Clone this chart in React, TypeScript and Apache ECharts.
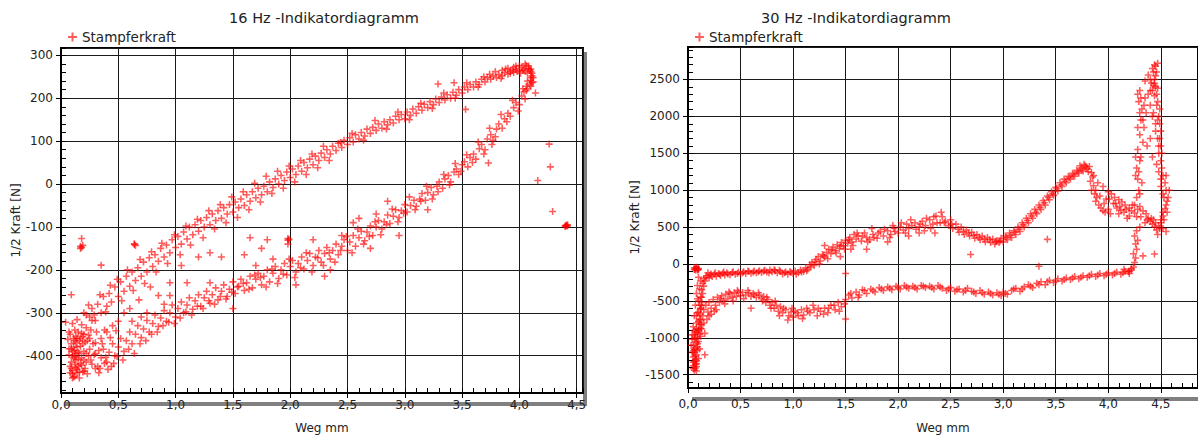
import React, { useEffect, useRef } from "react";
import * as echarts from "echarts";

// ---------- Data (x = Weg mm, y = 1/2 Kraft N) ----------
const titles = ["16 Hz -Indikatordiagramm", "30 Hz -Indikatordiagramm"];
const seriesName = "Stampferkraft";
const xAxisName = "Weg mm";
const yAxisName = "1/2 Kraft [N]";

// 16 Hz
const hz16Cluster: number[][] = [
  [0.08,-350],[0.09,-372],[0.1,-390],[0.11,-405],[0.12,-420],[0.1,-435],[0.12,-448],[0.14,-440],[0.15,-425],[0.13,-410],
  [0.16,-395],[0.14,-380],[0.12,-365],[0.17,-360],[0.19,-372],[0.2,-390],[0.18,-405],[0.22,-415],[0.21,-430],[0.09,-415],
  [0.11,-380],[0.13,-355],[0.15,-345],[0.18,-348],[0.23,-365],[0.25,-385],[0.07,-398],[0.08,-425],[0.1,-442],[0.16,-452],
  [0.13,-395],[0.15,-408],[0.2,-350],[0.26,-340],[0.11,-360],[0.09,-385],[0.17,-418],[0.19,-438],[0.24,-400],[0.27,-420],
  [0.3,-430],[0.14,-432],[0.12,-388],[0.1,-400],[0.08,-440],[0.11,-450],[0.13,-370],[0.16,-365],[0.2,-410],[0.22,-395],
  [0.06,-362],[0.07,-384],[0.09,-430],[0.1,-452],[0.12,-402],[0.13,-428],[0.14,-360],[0.15,-392],[0.16,-438],[0.17,-378],
  [0.18,-422],[0.19,-356],[0.2,-436],[0.21,-368],[0.23,-442],[0.24,-352],[0.26,-410],[0.28,-372],[0.29,-398],[0.31,-345],
  [0.33,-388],[0.34,-430],[0.36,-372],[0.38,-340],[0.39,-404],[0.41,-432],[0.43,-358],[0.46,-418],[0.48,-342],[0.12,-340],
  [0.1,-325],[0.14,-316],[0.18,-328],[0.22,-305],[0.27,-318],[0.07,-345],
];
const hz16Upper: number[][] = [
  [0.2,-300],[0.22,-335],[0.25,-310],[0.27,-290],[0.3,-318],[0.32,-280],[0.35,-300],[0.37,-262],[0.4,-285],[0.42,-255],
  [0.44,-275],[0.47,-240],[0.5,-262],[0.52,-228],[0.55,-250],[0.57,-215],[0.6,-238],[0.62,-205],[0.65,-225],[0.67,-195],
  [0.7,-215],[0.72,-182],[0.75,-205],[0.77,-172],[0.8,-192],[0.82,-165],[0.85,-180],[0.87,-150],[0.9,-170],[0.92,-142],
  [0.95,-160],[0.97,-130],[1.0,-148],[1.02,-122],[1.05,-140],[1.07,-112],[1.1,-128],[1.12,-100],[1.15,-118],[1.17,-95],
  [1.2,-110],[1.22,-85],[1.25,-100],[1.27,-78],[1.3,-95],[1.32,-70],[1.35,-85],[1.37,-62],[1.4,-80],[1.42,-55],
  [1.45,-70],[1.47,-48],[1.5,-65],[1.52,-42],[1.55,-55],[1.57,-35],[1.6,-50],[1.62,-25],[1.65,-40],[1.67,-18],
  [1.7,-32],[1.72,-10],[1.75,-25],[1.77,-5],[1.8,-18],[1.82,5],[1.85,-8],[1.87,12],[1.9,0],[1.92,20],
  [1.95,8],[1.97,28],[2.0,15],[2.02,35],[2.05,22],[2.07,42],[2.1,30],[2.12,50],[2.15,38],[2.17,58],
  [2.2,45],[2.22,65],[2.25,55],[2.27,72],[2.3,62],[2.32,80],[2.35,70],[2.37,88],[2.4,78],[2.42,95],
  [2.45,85],[2.47,102],[2.5,92],[2.52,108],[2.55,98],[2.57,115],[2.6,105],[2.62,120],[2.65,112],[2.67,128],
  [2.7,118],[2.72,132],[2.75,125],[2.77,140],[2.8,130],[2.82,145],[2.85,138],[2.87,150],[2.9,142],[2.92,158],
  [2.95,150],[2.97,162],[3.0,152],[3.02,168],[3.05,160],[3.07,175],[3.1,165],[3.12,180],[3.15,172],[3.17,186],
  [3.2,178],[3.22,192],[3.25,185],[3.27,198],[3.3,190],[3.32,203],[3.35,196],[3.37,208],[3.4,200],[3.42,214],
  [3.45,207],[3.47,220],[3.5,212],[3.52,226],[3.55,220],[3.57,232],[3.6,226],[3.62,238],[3.65,232],[3.67,244],
  [3.7,238],[3.72,248],[3.75,244],[3.77,252],[3.8,248],[3.82,256],[3.85,252],[3.87,260],[3.9,256],[3.92,263],
  [3.95,260],[3.97,268],[4.0,264],[4.02,272],[4.04,268],[4.06,276],[4.08,270],[4.1,262],[4.11,252],[4.1,242],
  [4.09,232],[4.07,222],[3.85,265],[3.9,270],[3.95,272],[4.0,276],[4.05,280],[4.08,275],[4.1,268],[3.92,258],
  [3.98,262],[4.03,265],[4.07,258],[4.1,248],[4.12,238],[4.1,228],[4.06,218],
  [0.24,-282],[0.29,-305],[0.34,-258],[0.39,-298],[0.43,-236],[0.49,-222],[0.53,-272],[0.58,-200],[0.63,-248],[0.69,-176],
  [0.73,-232],[0.79,-158],[0.83,-205],[0.88,-138],[0.93,-185],[0.99,-118],[1.04,-165],[1.09,-98],[1.13,-142],[1.19,-82],
  [1.24,-125],[1.29,-62],[1.34,-105],[1.39,-48],[1.44,-90],[1.49,-30],[1.54,-78],[1.59,-18],[1.64,-60],[1.69,2],
  [1.74,-42],[1.79,18],[1.84,-22],[1.89,30],[1.94,-10],[1.99,42],[2.04,5],[2.09,55],[2.14,22],[2.19,70],
  [2.24,38],[2.29,88],[2.34,55],[2.44,96],[2.54,118],[2.64,102],[2.74,148],[2.84,128],[2.94,168],[3.04,150],
  [3.14,188],[3.24,176],[3.34,212],[3.44,200],[3.54,236],[3.64,226],[3.74,256],[3.84,246],[3.94,266],[4.01,258],
  [3.97,275],[4.05,262],[4.09,266],[4.11,258],[4.12,248],[4.11,236],[3.88,268],[3.79,262],[3.69,250],
];
const hz16Lower: number[][] = [
  [0.3,-395],[0.32,-425],[0.35,-405],[0.37,-385],[0.4,-415],[0.42,-392],[0.45,-372],[0.47,-400],[0.5,-380],[0.52,-360],
  [0.55,-390],[0.57,-365],[0.6,-345],[0.62,-372],[0.65,-350],[0.67,-330],[0.7,-358],[0.72,-338],[0.75,-318],[0.77,-345],
  [0.8,-325],[0.82,-305],[0.85,-332],[0.87,-312],[0.9,-295],[0.92,-320],[0.95,-300],[0.97,-282],[1.0,-310],[1.02,-290],
  [1.05,-275],[1.07,-300],[1.1,-282],[1.12,-265],[1.15,-292],[1.17,-272],[1.2,-258],[1.22,-285],[1.25,-265],[1.27,-250],
  [1.3,-278],[1.32,-258],[1.35,-242],[1.37,-270],[1.4,-250],[1.42,-235],[1.45,-262],[1.47,-245],[1.5,-228],[1.52,-255],
  [1.55,-238],[1.57,-222],[1.6,-248],[1.62,-230],[1.65,-215],[1.67,-242],[1.7,-222],[1.72,-208],[1.75,-235],[1.77,-215],
  [1.8,-200],[1.82,-228],[1.85,-208],[1.87,-192],[1.9,-220],[1.92,-200],[1.95,-185],[1.97,-212],[2.0,-192],[2.02,-178],
  [2.05,-205],[2.07,-185],[2.1,-170],[2.12,-198],[2.15,-178],[2.17,-162],[2.2,-190],[2.22,-170],[2.25,-155],[2.27,-182],
  [2.3,-162],[2.32,-148],[2.35,-175],[2.37,-155],[2.4,-140],[2.42,-165],[2.45,-145],[2.47,-130],[2.5,-155],[2.52,-135],
  [2.55,-120],[2.57,-145],[2.6,-125],[2.62,-110],[2.65,-132],[2.67,-112],[2.7,-98],[2.72,-120],[2.75,-100],[2.77,-85],
  [2.8,-105],[2.82,-88],[2.85,-72],[2.87,-92],[2.9,-75],[2.92,-60],[2.95,-78],[2.97,-62],[3.0,-48],[3.02,-65],
  [3.05,-50],[3.08,-38],[3.1,-52],[3.13,-35],[3.15,-22],[3.18,-38],[3.2,-20],[3.23,-8],[3.25,-25],[3.28,-5],
  [3.3,5],[3.33,-10],[3.35,12],[3.38,20],[3.4,5],[3.43,28],[3.45,35],[3.47,22],[3.5,45],[3.52,52],
  [3.55,40],[3.57,62],[3.6,70],[3.62,58],[3.65,82],[3.67,92],[3.7,80],[3.72,105],[3.75,115],[3.77,102],
  [3.8,128],[3.82,140],[3.85,130],[3.87,152],[3.9,165],[3.92,158],[3.95,178],[3.97,190],[4.0,185],[4.02,205],
  [4.04,215],[4.06,228],[4.07,240],
  [0.33,-440],[0.38,-418],[0.44,-425],[0.49,-402],[0.54,-410],[0.59,-385],[0.64,-395],[0.69,-372],[0.74,-365],[0.79,-350],
  [0.84,-345],[0.89,-330],[0.94,-322],[0.99,-325],[1.04,-312],[1.09,-298],[1.14,-305],[1.19,-285],[1.24,-290],[1.29,-272],
  [1.34,-280],[1.39,-262],[1.44,-268],[1.49,-252],[1.54,-240],[1.59,-232],[1.64,-245],[1.69,-212],[1.74,-218],[1.79,-240],
  [1.84,-198],[1.89,-232],[1.94,-210],[1.99,-175],[2.04,-218],[2.09,-195],[2.14,-160],[2.19,-205],[2.24,-172],[2.29,-190],
  [2.34,-160],[2.39,-182],[2.44,-155],[2.49,-122],[2.54,-160],[2.59,-105],[2.64,-140],[2.69,-122],[2.74,-88],[2.79,-118],
  [2.84,-95],[2.89,-58],[2.94,-88],[2.99,-68],[3.04,-30],[3.09,-60],[3.14,-40],[3.19,-5],[3.24,-35],[3.29,-18],
  [3.34,22],[3.39,-2],[3.44,48],[3.49,30],[3.54,68],[3.59,50],[3.64,98],[3.69,70],[3.74,130],[3.79,110],
  [3.84,162],[3.89,145],[3.94,195],[3.99,170],[4.03,222],[4.05,198],
];
const hz16Outliers: number[][] = [
  [0.55,-300],[0.6,-290],[0.68,-270],[0.75,-300],[0.85,-260],[0.95,-230],[1.05,-190],[1.2,-170],[1.3,-160],[0.45,-330],
  [0.5,-320],[0.4,-345],[0.62,-320],[0.7,-310],[0.9,-280],[1.4,-170],[1.6,-165],[1.75,-150],[1.65,-125],[1.8,-130],
  [0.35,-360],[0.78,-240],[0.3,-370],[0.25,-360],[2.6,-80],[2.75,-70],[2.35,-200],[2.3,-215],[2.85,-40],[2.95,-120],
  [2.7,-150],[2.45,-120],[3.2,-60],[2.55,-90],[1.5,-290],[1.3,-230],[1.1,-230],[0.95,-260],[2.05,-235],[1.85,-175],
  [1.7,-190],[2.2,-130],[3.29,233],[3.43,236],[3.53,174],[4.14,212],[3.73,49],[3.76,92],[4.26,93],[4.27,40],
  [4.16,8],[4.29,-64],[4.4,-97],[4.41,-96],[4.42,-98],[4.4,-99],[4.42,-95],[4.41,-97],[0.17,-145],[0.18,-148],
  [0.19,-143],[0.17,-150],[0.18,-127],[0.64,-141],[0.65,-143],[0.64,-139],[1.98,-127],[1.99,-129],[1.98,-131],[1.98,-140],
  [0.35,-189],[0.09,-258],[0.04,-322],
];

// 30 Hz
const hz30Start: number[][] = [
  [0.06,-50],[0.07,-65],[0.08,-55],[0.09,-70],[0.07,-80],[0.1,-60],[0.08,-45],[0.09,-85],[0.06,-75],[0.1,-75],
  [0.1,-180],[0.12,-230],[0.09,-290],[0.11,-340],[0.08,-400],[0.13,-450],[0.1,-500],[0.07,-560],[0.12,-610],[0.09,-660],
  [0.06,-700],[0.11,-750],[0.08,-800],[0.05,-850],[0.1,-880],[0.07,-920],[0.04,-960],[0.09,-990],[0.06,-1020],[0.08,-1060],
  [0.05,-1100],[0.07,-1140],[0.09,-1170],[0.06,-1200],[0.08,-1230],[0.05,-1260],[0.07,-1290],[0.06,-1320],[0.08,-1350],[0.05,-1380],
  [0.07,-1410],[0.06,-1440],[0.08,-1390],[0.04,-1200],[0.03,-1100],[0.1,-1050],[0.11,-950],[0.12,-870],[0.13,-820],[0.09,-1120],
  [0.1,-1280],[0.07,-1000],[0.06,-900],[0.05,-1180],[0.08,-1310],[0.11,-1150],[0.16,-1230],
  [0.05,-1330],[0.07,-1250],[0.09,-1080],[0.04,-1020],[0.06,-960],[0.08,-880],[0.1,-780],[0.12,-680],[0.11,-560],[0.09,-470],
  [0.13,-560],[0.07,-1360],[0.05,-1420],[0.08,-1450],[0.06,-1160],[0.09,-930],
];
const hz30Middle: number[][] = [
  [0.12,-600],[0.13,-520],[0.12,-450],[0.14,-400],[0.13,-350],[0.15,-300],[0.14,-260],[0.16,-230],[0.15,-200],[0.17,-180],
  [0.18,-160],[0.2,-190],[0.21,-150],[0.23,-170],[0.25,-140],[0.27,-165],[0.29,-130],[0.31,-155],[0.33,-125],[0.35,-150],
  [0.37,-118],[0.4,-145],[0.42,-120],[0.45,-140],[0.48,-110],[0.5,-135],[0.53,-105],[0.55,-130],[0.58,-100],[0.6,-125],
  [0.63,-95],[0.65,-120],[0.68,-90],[0.7,-115],[0.73,-85],[0.75,-110],[0.78,-80],[0.8,-105],[0.83,-90],[0.85,-120],
  [0.88,-100],[0.9,-135],[0.93,-110],[0.95,-140],[0.98,-115],[1.0,-130],[1.02,-95],[1.05,-120],[1.07,-80],[1.1,-100],
  [1.12,-50],[1.14,-70],[1.16,-10],[1.18,20],[1.2,-20],[1.22,60],[1.24,100],[1.26,40],[1.28,130],[1.3,90],
  [1.32,160],[1.34,200],[1.36,140],[1.38,230],[1.4,180],[1.42,260],[1.44,210],[1.46,290],[1.48,250],[1.5,320],
  [1.52,280],[1.54,360],[1.56,300],[1.58,400],[1.6,340],[1.62,380],[1.65,310],[1.68,420],[1.7,360],[1.73,330],
  [1.76,400],[1.8,350],[1.83,440],[1.86,380],[1.9,450],[1.93,400],[1.96,480],[2.0,420],[2.02,500],[2.05,460],
  [2.08,540],[2.1,480],[2.13,520],[2.16,560],[2.2,500],[2.23,580],[2.26,520],[2.3,600],[2.33,540],[2.36,650],
  [2.4,560],[1.45,100],[1.55,200],[1.7,200],[1.9,300],[2.1,380],[2.2,420],[1.3,250],[1.75,480],[1.95,520],
  [2.35,420],[2.25,450],
  [0.19,-120],[0.22,-135],[0.26,-118],[0.3,-138],[0.34,-110],[0.38,-135],[0.43,-105],[0.47,-128],[0.52,-120],[0.57,-95],
  [0.62,-112],[0.67,-105],[0.72,-98],[0.77,-120],[0.82,-78],[0.87,-85],[0.92,-120],[0.97,-100],[1.03,-140],[1.08,-110],
  [1.13,-90],[1.17,-40],[1.21,30],[1.25,0],[1.29,110],[1.33,70],[1.37,190],[1.41,150],[1.45,240],[1.49,200],
  [1.53,330],[1.57,250],[1.61,420],[1.66,380],[1.71,300],[1.77,360],[1.81,420],[1.87,470],[1.92,360],[1.97,440],
  [2.03,560],[2.07,420],[2.12,600],[2.17,470],[2.21,540],[2.27,620],[2.31,480],[2.37,560],[2.41,700],[2.34,640],
];
const hz30Upper: number[][] = [
  [2.42,640],[2.45,580],[2.48,520],[2.5,600],[2.52,480],[2.55,540],[2.58,430],[2.6,500],[2.63,400],[2.65,460],
  [2.68,380],[2.7,430],[2.73,350],[2.75,400],[2.78,330],[2.8,380],[2.83,300],[2.85,360],[2.88,290],[2.9,340],
  [2.92,270],[2.94,320],[2.96,290],[2.98,350],[3.0,300],[3.02,380],[3.04,330],[3.06,420],[3.08,360],[3.1,450],
  [3.12,400],[3.14,500],[3.16,440],[3.18,560],[3.2,500],[3.22,620],[3.24,560],[3.26,680],[3.28,620],[3.3,740],
  [3.32,680],[3.34,800],[3.36,740],[3.38,860],[3.4,800],[3.42,920],[3.44,870],[3.46,980],[3.48,930],[3.5,1040],
  [3.52,990],[3.54,1100],[3.56,1050],[3.58,1150],[3.6,1100],[3.62,1190],[3.64,1150],[3.66,1230],[3.68,1190],[3.7,1270],
  [3.72,1230],[3.74,1300],[3.76,1260],[3.78,1330],[3.8,1290],[3.82,1320],[3.84,1240],[3.85,1180],[3.83,1120],[3.86,1060],
  [3.84,1000],[3.87,950],[3.89,900],[3.88,850],[3.91,800],[3.93,760],[3.95,720],[3.97,700],[4.0,740],[3.9,1100],
  [3.95,1050],[4.0,980],[4.03,950],[4.06,900],[4.1,870],[4.13,840],[4.16,800],[4.2,760],[4.22,720],[4.25,690],
  [4.28,740],[4.3,780],[4.33,720],[4.36,680],[4.38,620],[4.4,580],[4.42,540],[4.44,500],[4.46,460],[4.48,520],
  [4.5,560],[4.52,480],[4.55,440],[4.47,400],[4.43,600],[4.35,560],[4.3,500],[4.27,450],[4.25,380],[4.2,650],
  [4.15,700],[4.08,760],[4.05,820],[4.02,680],[3.98,880],[4.1,680],[4.18,620],[4.12,730],
  [2.44,560],[2.51,540],[2.57,470],[2.62,440],[2.67,420],[2.72,390],[2.77,360],[2.82,340],[2.87,330],[2.93,300],
  [2.97,310],[3.03,360],[3.07,390],[3.11,430],[3.15,470],[3.19,530],[3.23,590],[3.27,650],[3.31,700],[3.35,770],
  [3.39,830],[3.43,900],[3.47,950],[3.51,1020],[3.55,1070],[3.59,1120],[3.63,1170],[3.67,1210],[3.71,1250],[3.75,1280],
  [3.79,1310],[3.77,1350],[3.73,1330],[3.81,1250],[3.86,1200],[3.88,1000],[3.92,920],[3.96,820],[4.01,880],[4.07,820],
  [4.11,780],[4.17,740],[4.23,800],[4.27,640],[4.31,640],[4.37,600],[4.41,620],[4.45,560],[4.49,480],[4.53,600],
  [4.56,700],
];
const hz30Spike: number[][] = [
  [4.5,600],[4.52,700],[4.55,800],[4.57,900],[4.55,1000],[4.54,1100],[4.52,1200],[4.51,1300],[4.5,1400],[4.51,1500],
  [4.5,1600],[4.49,1700],[4.5,1800],[4.49,1900],[4.48,2000],[4.49,2100],[4.47,2200],[4.46,2300],[4.45,2400],[4.44,2500],
  [4.43,2600],[4.44,2700],[4.42,2650],[4.45,2550],[4.41,2450],[4.4,2350],[4.38,2300],[4.35,2250],[4.3,2350],[4.29,2200],
  [4.32,2100],[4.36,2050],[4.31,1950],[4.34,1850],[4.3,1750],[4.33,1650],[4.28,1550],[4.26,1450],[4.3,1400],[4.27,1300],
  [4.26,1200],[4.32,1100],[4.29,1000],[4.27,900],[4.25,800],[4.4,2150],[4.42,2000],[4.45,1900],[4.47,2380],[4.43,2420],
  [4.4,2500],[4.46,2600],[4.44,2280],[4.48,1600],[4.5,1150],[4.52,950],[4.56,850],[4.58,1000],[4.55,1200],[4.4,1700],
  [4.37,1600],[4.42,1450],[4.35,2480],[4.38,2560],[4.45,2680],[4.47,2720],
  [4.44,2450],[4.42,2350],[4.46,2150],[4.43,2050],[4.47,1950],[4.45,1800],[4.47,1700],[4.48,1500],[4.46,1350],[4.48,1250],
  [4.5,1050],[4.53,900],[4.54,750],[4.52,650],[4.28,2300],[4.31,2250],[4.34,2150],[4.3,2050],[4.33,1950],[4.28,1850],
  [4.31,1450],[4.29,1250],[4.28,1150],[4.3,950],
];
const hz30Lower: number[][] = [
  [0.08,-700],[0.1,-650],[0.12,-760],[0.14,-700],[0.11,-820],[0.15,-620],[0.17,-560],[0.19,-650],[0.2,-520],[0.22,-600],
  [0.24,-480],[0.26,-560],[0.28,-450],[0.3,-520],[0.32,-430],[0.34,-490],[0.36,-410],[0.38,-470],[0.4,-400],[0.42,-450],
  [0.44,-390],[0.46,-440],[0.48,-380],[0.5,-430],[0.52,-385],[0.55,-420],[0.58,-390],[0.6,-440],[0.62,-400],[0.65,-450],
  [0.68,-420],[0.7,-470],[0.72,-440],[0.74,-520],[0.76,-480],[0.78,-560],[0.8,-520],[0.82,-600],[0.84,-560],[0.86,-640],
  [0.88,-580],[0.9,-660],[0.93,-620],[0.96,-700],[0.98,-650],[1.0,-720],[1.02,-640],[1.05,-700],[1.08,-620],[1.1,-690],
  [1.13,-600],[1.16,-660],[1.2,-620],[1.23,-700],[1.26,-640],[1.3,-600],[1.33,-660],[1.36,-560],[1.4,-620],[1.43,-520],
  [1.46,-580],[1.5,-480],[1.53,-420],[1.56,-460],[1.6,-380],[1.63,-420],[1.66,-350],[1.7,-400],[1.74,-340],[1.78,-380],
  [1.82,-320],[1.86,-360],[1.9,-310],[1.94,-350],[1.98,-300],[2.02,-340],[2.06,-290],[2.1,-330],[2.14,-300],[2.18,-340],
  [2.22,-290],[2.26,-320],[2.3,-300],[2.34,-340],[2.38,-290],[2.42,-330],[2.46,-360],[2.5,-320],[2.54,-370],[2.58,-340],
  [2.62,-380],[2.66,-330],[2.7,-370],[2.74,-400],[2.78,-360],[2.82,-410],[2.86,-380],[2.9,-420],[2.94,-390],[2.98,-430],
  [3.0,-380],[3.04,-410],[3.08,-360],[3.12,-330],[3.16,-370],[3.2,-310],[3.24,-280],[3.28,-320],[3.32,-260],[3.36,-240],
  [3.4,-280],[3.44,-220],[3.48,-250],[3.52,-200],[3.56,-230],[3.6,-190],[3.64,-210],[3.68,-170],[3.72,-200],[3.76,-160],
  [3.8,-180],[3.84,-140],[3.88,-170],[3.92,-130],[3.96,-160],[4.0,-120],[4.04,-150],[4.08,-110],[4.12,-140],[4.16,-100],
  [4.2,-130],[4.22,-80],[4.24,-40],[4.25,20],[4.26,80],[4.24,140],[4.27,200],[4.26,270],[4.28,320],[4.22,-60],
  [4.19,-100],[4.15,-70],[0.15,-800],[0.18,-750],[0.2,-700],[0.13,-880],[0.16,-940],[0.22,-680],[0.25,-640],[0.1,-900],
  [0.12,-980],
  [0.27,-620],[0.31,-470],[0.35,-540],[0.39,-380],[0.43,-500],[0.47,-360],[0.53,-470],[0.57,-360],[0.63,-420],[0.67,-390],
  [0.71,-500],[0.75,-450],[0.79,-600],[0.83,-500],[0.87,-700],[0.91,-600],[0.95,-760],[0.99,-600],[1.04,-660],[1.09,-740],
  [1.14,-640],[1.19,-560],[1.24,-600],[1.29,-680],[1.34,-600],[1.39,-560],[1.44,-640],[1.49,-540],[1.55,-400],[1.62,-450],
  [1.68,-360],[1.76,-360],[1.84,-340],[1.92,-330],[2.0,-320],[2.08,-310],[2.16,-320],[2.24,-300],[2.32,-320],[2.4,-310],
  [2.48,-340],[2.56,-350],[2.64,-360],[2.72,-380],[2.8,-390],[2.88,-400],[2.96,-410],[3.02,-400],[3.1,-340],[3.18,-340],
  [3.26,-300],[3.34,-280],[3.42,-240],[3.5,-230],[3.58,-210],[3.66,-190],[3.74,-180],[3.82,-160],[3.9,-150],[3.98,-140],
  [4.06,-130],[4.14,-120],[4.2,-100],
];
const hz30Outliers: number[][] = [
  [2.69,128],[3.42,334],[3.34,-31],[4.44,136],[4.33,110],[1.5,-130],[1.5,-744],[0.6,-600],
];

const hz16Data = [...hz16Cluster, ...hz16Upper, ...hz16Lower, ...hz16Outliers];
const hz30Data = [...hz30Start, ...hz30Middle, ...hz30Upper, ...hz30Spike, ...hz30Lower, ...hz30Outliers];

// ---------- Layout / style ----------
const FONT = "DejaVu Sans";
const TEXT = "#222";
const PLUS = "path://M3.5,0L5.5,0L5.5,3.5L9,3.5L9,5.5L5.5,5.5L5.5,9L3.5,9L3.5,5.5L0,5.5L0,3.5L3.5,3.5Z";
const MARK = "rgba(255,0,0,0.8)";

const G1 = { left: 61, top: 48, width: 522, height: 354 };
const G2 = { left: 688, top: 47, width: 516, height: 350 };
const X1 = { min: 0, max: 4.555 };
const Y1 = { min: -487, max: 317 };
const X2 = { min: 0, max: 4.854 };
const Y2 = { min: -1680, max: 2940 };

const fmtX = (v: number) => v.toFixed(1).replace(".", ",");
const fmtY = (v: number) => String(Math.round(v));

function mainX(grid: number, ext: { min: number; max: number }, nameGap: number, margin: number) {
  return {
    type: "value", gridIndex: grid, min: ext.min, max: ext.max, interval: 0.5, position: "bottom",
    name: xAxisName, nameLocation: "middle", nameGap,
    nameTextStyle: { fontFamily: FONT, fontSize: 12, color: TEXT },
    axisLine: { show: true, onZero: false, lineStyle: { color: "#000", width: 2 } },
    axisTick: { show: true, inside: false, length: 5, lineStyle: { color: "#000" } },
    axisLabel: { show: true, margin, formatter: fmtX, showMaxLabel: false, fontFamily: FONT, fontSize: 12, color: TEXT },
    splitLine: { show: true, lineStyle: { color: "#1a1a1a", width: 1 } },
  };
}
function minorX(grid: number, ext: { min: number; max: number }) {
  return {
    type: "value", gridIndex: grid, min: ext.min, max: ext.max, interval: 0.1, position: "bottom",
    axisLine: { show: false, onZero: false },
    axisTick: { show: true, inside: true, length: 5, lineStyle: { color: "#000" } },
    axisLabel: { show: false }, splitLine: { show: false },
  };
}
function mainY(grid: number, ext: { min: number; max: number }, step: number, nameGap: number) {
  return {
    type: "value", gridIndex: grid, min: ext.min, max: ext.max, minInterval: step, maxInterval: step, position: "left",
    splitNumber: Math.round((ext.max - ext.min) / step),
    name: yAxisName, nameLocation: "middle", nameGap, nameRotate: 90,
    nameTextStyle: { fontFamily: FONT, fontSize: 12, color: TEXT },
    axisLine: { show: true, onZero: false, lineStyle: { color: "#000", width: 2 } },
    axisTick: { show: true, inside: false, length: 5, lineStyle: { color: "#000" } },
    axisLabel: { show: true, margin: 8, formatter: fmtY, showMinLabel: false, showMaxLabel: false, fontFamily: FONT, fontSize: 12, color: TEXT },
    splitLine: { show: true, lineStyle: { color: "#1a1a1a", width: 1 } },
  };
}
function minorY(grid: number, ext: { min: number; max: number }, step: number) {
  return {
    type: "value", gridIndex: grid, min: ext.min, max: ext.max, minInterval: step, maxInterval: step, position: "left",
    splitNumber: Math.round((ext.max - ext.min) / step),
    axisLine: { show: false, onZero: false },
    axisTick: { show: true, inside: true, length: 5, lineStyle: { color: "#000" } },
    axisLabel: { show: false }, splitLine: { show: false },
  };
}

export default function App() {
  const ref = useRef<HTMLDivElement>(null);
  useEffect(() => {
    if (!ref.current) return;
    const chart = echarts.init(ref.current, undefined, { renderer: "svg" });
    const shadow = (g: typeof G1) => ({
      type: "rect", z: -10, silent: true,
      shape: { x: g.left + 4, y: g.top + 4, width: g.width, height: g.height },
      style: { fill: "#808080" },
    });
    const white = (g: typeof G1) => ({
      type: "rect", z: -9, silent: true,
      shape: { x: g.left, y: g.top, width: g.width, height: g.height },
      style: { fill: "#ffffff" },
    });
    const title = (text: string, x: number) => ({
      type: "text", x, y: 18,
      style: { text, fill: TEXT, fontFamily: FONT, fontSize: 14.5, align: "center", verticalAlign: "middle", textAlign: "center", textVerticalAlign: "middle" },
    });
    chart.setOption({
      animation: false,
      backgroundColor: "#fff",
      textStyle: { fontFamily: FONT },
      graphic: [
        shadow(G1), white(G1), shadow(G2), white(G2),
        title(titles[0], 324), title(titles[1], 856),
      ],
      legend: [
        { left: 63, top: 25, itemWidth: 9, itemHeight: 9, itemGap: 6, icon: PLUS, data: [seriesName],
          textStyle: { fontFamily: FONT, fontSize: 13.5, color: TEXT } },
        { left: 690, top: 25, itemWidth: 9, itemHeight: 9, itemGap: 6, icon: PLUS, data: [seriesName],
          textStyle: { fontFamily: FONT, fontSize: 13.5, color: TEXT } },
      ],
      grid: [
        { ...G1, show: true, backgroundColor: "transparent", borderColor: "#000", borderWidth: 2, containLabel: false },
        { ...G2, show: true, backgroundColor: "transparent", borderColor: "#000", borderWidth: 2, containLabel: false },
      ],
      xAxis: [mainX(0, X1, 29, 6), mainX(1, X2, 34, 10), minorX(0, X1), minorX(1, X2)],
      yAxis: [mainY(0, Y1, 100, 38), mainY(1, Y2, 500, 45), minorY(0, Y1, 20), minorY(1, Y2, 100)],
      series: [
        { type: "scatter", name: seriesName, xAxisIndex: 0, yAxisIndex: 0, data: hz16Data,
          symbol: PLUS, symbolSize: 7, itemStyle: { color: MARK } },
        { type: "scatter", name: seriesName, xAxisIndex: 1, yAxisIndex: 1, data: hz30Data,
          symbol: PLUS, symbolSize: 7, itemStyle: { color: MARK } },
      ],
    });
    return () => chart.dispose();
  }, []);
  return <div ref={ref} style={{ position: "fixed", left: 0, top: 0, width: 1198, height: 439 }} />;
}
